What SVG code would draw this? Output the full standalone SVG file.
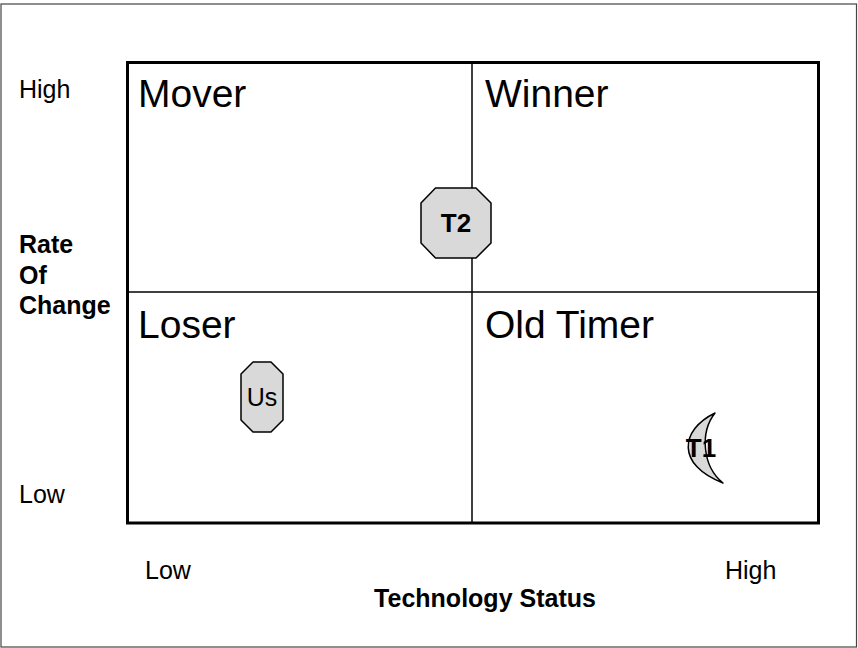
<svg xmlns="http://www.w3.org/2000/svg" width="858" height="648" viewBox="0 0 858 648">
<style>
.t{font-family:"Liberation Sans",Arial,sans-serif;fill:#000}
.ax{font-size:25px}
.axb{font-size:25px;font-weight:bold}
.lb{font-size:26px;font-weight:bold}
.q{font-size:39px}
.shape{fill:#d9d9d9;stroke:#000;stroke-width:1.5;stroke-linejoin:round}
.div{stroke:#000;stroke-width:1.5;fill:none}
</style>
<rect x="1" y="4" width="855.5" height="643" fill="#fff" stroke="#444" stroke-width="1.2"/>
<g id="grid">
<rect x="127.5" y="62.5" width="691" height="460.5" fill="none" stroke="#000" stroke-width="3"/>
<line class="div" x1="472" y1="62" x2="472" y2="523"/>
<line class="div" x1="127" y1="292" x2="819" y2="292"/>
</g>
<g id="quadrant-labels">
<text class="t q" x="138" y="107">Mover</text>
<text class="t q" x="485" y="107">Winner</text>
<text class="t q" x="138" y="338">Loser</text>
<text class="t q" x="485" y="338">Old Timer</text>
</g>
<g id="y-axis">
<text class="t ax" x="19" y="98">High</text>
<text class="t ax" x="19" y="503">Low</text>
<text class="t axb" x="19" y="253">Rate</text>
<text class="t axb" x="19" y="284">Of</text>
<text class="t axb" x="19" y="314">Change</text>
</g>
<g id="x-axis">
<text class="t ax" x="145" y="579">Low</text>
<text class="t ax" x="725" y="579">High</text>
<text class="t axb" x="485" y="607" text-anchor="middle">Technology Status</text>
</g>
<g id="T2">
<polygon class="shape" points="435.5,188 476,188 491,203 491,243 476,258 435.5,258 421,243 421,203"/>
<text class="t lb" x="456" y="232" text-anchor="middle">T2</text>
</g>
<g id="Us">
<polygon class="shape" points="253,362 271,362 283,374 283,420 271,432 253,432 241,420 241,374"/>
<text class="t ax" x="262" y="406" text-anchor="middle">Us</text>
</g>
<g id="T1">
<path class="shape" d="M715,413 C680,430 676,465 723,483 C702,466 700,432 715,413 Z"/>
<text class="t lb" x="701" y="457" text-anchor="middle">T1</text>
</g>
</svg>
